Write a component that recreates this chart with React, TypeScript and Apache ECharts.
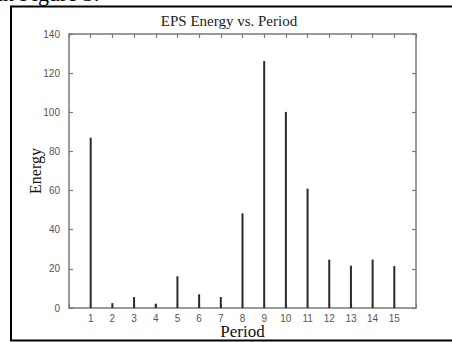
import React, { useEffect, useRef } from "react";
import * as echarts from "echarts";

const periods = [1, 2, 3, 4, 5, 6, 7, 8, 9, 10, 11, 12, 13, 14, 15];
const energy = [87, 2.5, 5.6, 2.2, 16.2, 7, 5.6, 48.4, 126.2, 100.2, 61, 24.7, 21.6, 24.7, 21.4];
const yMin = 0;
const yMax = 140;
const yStep = 20;
const xMin = 0;
const xMax = 16;
const titleText = "EPS Energy vs. Period";
const xName = "Period";
const yName = "Energy";
const captionText = "in Figure 3:";

const SERIF = '"Liberation Serif", "Times New Roman", serif';
const SANS = '"Liberation Sans", Arial, sans-serif';
const AXIS_COLOR = "#7a7a7a";

export default function App() {
  const ref = useRef<HTMLDivElement>(null);

  useEffect(() => {
    document.body.style.margin = "0";
    if (!ref.current) return;
    const chart = echarts.init(ref.current, null, { renderer: "svg" });

    const axisLine = { show: true, onZero: false, lineStyle: { color: AXIS_COLOR, width: 1.5 } };
    const axisTick = { show: true, inside: true, length: 4, lineStyle: { color: AXIS_COLOR, width: 1.2 } };

    const xLabelFmt = (v: number) => (v >= periods[0] && v <= periods[periods.length - 1] ? String(v) : "");

    chart.setOption({
      animation: false,
      backgroundColor: "#ffffff",
      title: {
        text: titleText,
        left: 224,
        textAlign: "center",
        top: 8,
        textStyle: { fontFamily: SERIF, fontWeight: "normal", fontSize: 15, color: "#222" },
      },
      grid: { left: 69, right: 36, top: 34, bottom: 34, containLabel: false, outerBoundsMode: "none" },
      xAxis: [
        {
          type: "value",
          min: xMin,
          max: xMax,
          interval: 1,
          position: "bottom",
          axisLine,
          axisTick,
          splitLine: { show: false },
          axisLabel: { formatter: xLabelFmt, fontSize: 10, fontFamily: SANS, color: "#555", margin: 5 },
          name: xName,
          nameLocation: "middle",
          nameGap: 15,
          nameMoveOverlap: false,
          nameTextStyle: { fontFamily: SERIF, fontSize: 17, color: "#111" },
        },
        {
          type: "value",
          min: xMin,
          max: xMax,
          interval: 1,
          position: "top",
          axisLine,
          axisTick,
          splitLine: { show: false },
          axisLabel: { show: false },
        },
      ],
      yAxis: [
        {
          type: "value",
          min: yMin,
          max: yMax,
          interval: yStep,
          position: "left",
          axisLine,
          axisTick,
          splitLine: { show: false },
          axisLabel: { fontSize: 10, fontFamily: SANS, color: "#555", margin: 9 },
          name: yName,
          nameLocation: "middle",
          nameGap: 26,
          nameMoveOverlap: false,
          nameTextStyle: { fontFamily: SERIF, fontSize: 16, color: "#111" },
        },
        {
          type: "value",
          min: yMin,
          max: yMax,
          interval: yStep,
          position: "right",
          axisLine,
          axisTick,
          splitLine: { show: false },
          axisLabel: { show: false },
        },
      ],
      series: [
        {
          type: "bar",
          xAxisIndex: 0,
          yAxisIndex: 0,
          barWidth: 2,
          itemStyle: { color: "#2a2a2a" },
          data: periods.map((p, i) => [p, energy[i]]),
        },
      ],
      graphic: [
        {
          type: "rect",
          shape: { x: 11, y: 6.5, width: 470, height: 334 },
          style: { fill: "none", stroke: "#000", lineWidth: 2 },
          silent: true,
        },
        {
          type: "text",
          x: -3,
          y: 4,
          style: {
            text: captionText,
            fontFamily: SERIF,
            fontSize: 22,
            fill: "#000",
            verticalAlign: "bottom",
          },
          silent: true,
        },
      ],
    });

    return () => chart.dispose();
  }, []);

  return <div ref={ref} style={{ width: 452, height: 342, background: "#fff" }} />;
}
